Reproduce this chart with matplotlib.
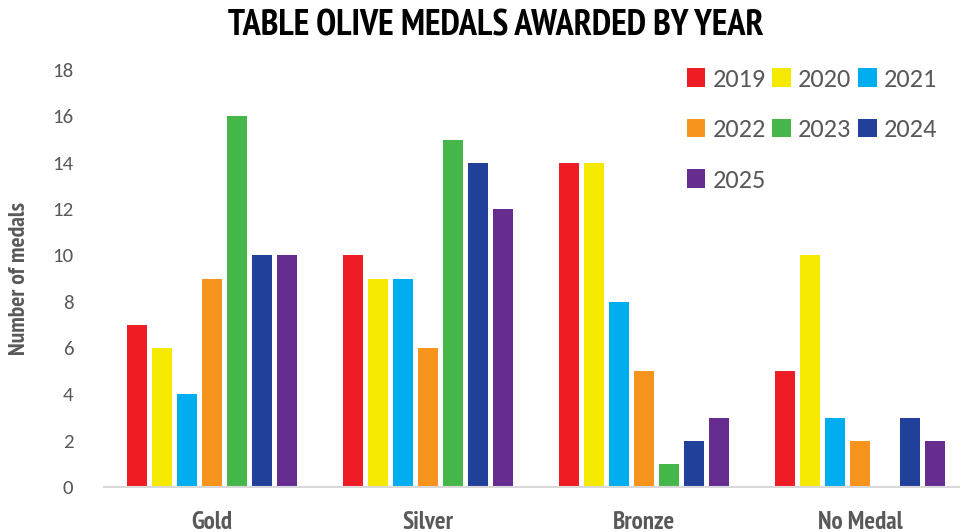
import matplotlib
matplotlib.use("Agg")
import matplotlib.pyplot as plt
from matplotlib import font_manager as fm
from matplotlib.patches import Patch
import numpy as np

categories = ["Gold", "Silver", "Bronze", "No Medal"]
years = ["2019", "2020", "2021", "2022", "2023", "2024", "2025"]
v2019 = [7, 10, 14, 5]
v2020 = [6, 9, 14, 10]
v2021 = [4, 9, 8, 3]
v2022 = [9, 6, 5, 2]
v2023 = [16, 15, 1, 0]
v2024 = [10, 14, 2, 3]
v2025 = [10, 12, 3, 2]
series = [v2019, v2020, v2021, v2022, v2023, v2024, v2025]
colors = ["#EE1C25", "#F5E900", "#00AEEF", "#F7941D", "#45B649", "#21409A", "#662D91"]
yticks = [0, 2, 4, 6, 8, 10, 12, 14, 16, 18]

bold_fonts = {f.name for f in fm.fontManager.ttflist if f.weight in (700, "bold")}
narrow = "DejaVu Sans"
for cand in ["PT Sans Narrow", "Roboto Condensed", "Fira Sans Condensed", "Archivo Narrow"]:
    if cand in bold_fonts:
        narrow = cand
        break
names = {f.name for f in fm.fontManager.ttflist}
reg = "Carlito" if "Carlito" in names else "DejaVu Sans"
grey = "#595959"

fig = plt.figure(figsize=(9.6, 5.32), dpi=100)
ax = fig.add_axes([104/960, 45/532, 856/960, 417/532])

pitch = 0.116
width = 0.093
x = np.arange(len(categories))
for i, (vals, c) in enumerate(zip(series, colors)):
    ax.bar(x + (i - 3) * pitch, vals, width=width, color=c, label=years[i])

ax.set_xlim(-0.5, -0.5 + 856/216)
ax.set_ylim(0, 18)
ax.set_yticks(yticks)
ax.set_yticklabels([str(t) for t in yticks], fontfamily=reg, fontsize=15, color=grey)
ax.set_xticks(x)
ax.set_xticklabels(categories, fontfamily=narrow, fontweight="bold", fontsize=18, color=grey)
ax.tick_params(axis="y", length=0, pad=22)
ax.tick_params(axis="x", length=0, pad=17)
for s in ["top", "right", "left"]:
    ax.spines[s].set_visible(False)
ax.spines["bottom"].set_color("#D9D9D9")
ax.spines["bottom"].set_linewidth(1.5)

ax.set_ylabel("Number of medals", fontfamily=narrow, fontweight="bold", fontsize=17, color=grey, labelpad=16)

fig.text(496/960, 1 - 26/532, "TABLE OLIVE MEDALS AWARDED BY YEAR", ha="center", va="center",
         fontfamily=narrow, fontweight="bold", fontsize=26, color="black")

order = [0, 3, 6, 1, 4, 2, 5]
handles = [Patch(facecolor=colors[i], edgecolor="none") for i in order]
labels = [years[i] for i in order]
leg = fig.legend(handles, labels, loc="upper left", bbox_to_anchor=(676/960, 1 - 57/532), ncol=3,
                 frameon=False, prop={"family": reg, "size": 19}, handlelength=0.7, handleheight=0.7,
                 handletextpad=0.28, columnspacing=0.25, labelspacing=1.05, borderaxespad=0)
for t in leg.get_texts():
    t.set_color(grey)

fig.savefig("out.png", dpi=100)
